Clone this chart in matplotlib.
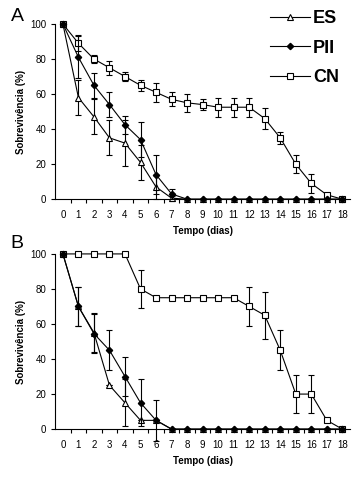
import numpy as np
import matplotlib.pyplot as plt

dias = list(range(19))

# painel A
es_a = [100, 58, 47, 35, 32, 21, 7, 0.6, 0, 0, 0, 0, 0, 0, 0, 0, 0, 0, 0]
es_a_err = [0, 10, 10, 10, 13, 10, 7, 1.5, 0, 0, 0, 0, 0, 0, 0, 0, 0, 0, 0]
pii_a = [100, 81, 65, 54, 42.5, 34, 14, 3, 0, 0, 0, 0, 0, 0, 0, 0, 0, 0, 0]
pii_a_err = [0, 12, 7, 7, 5, 10, 11, 3, 0, 0, 0, 0, 0, 0, 0, 0, 0, 0, 0]
cn_a = [100, 89, 80, 75, 70, 65, 61, 57, 55, 54, 52.5, 52.5, 52.5, 46, 35, 20, 9, 2.5, 0]
cn_a_err = [0, 4.5, 2.5, 4, 2.5, 3, 5.5, 4, 5, 3, 5.5, 5.5, 5.5, 6, 3.5, 5, 5.5, 0, 0]

# painel B
es_b = [100, 70, 55, 25, 15, 5, 5, 0, 0, 0, 0, 0, 0, 0, 0, 0, 0, 0, 0]
es_b_err = [0, 11, 11, 0, 13.5, 0, 0, 0, 0, 0, 0, 0, 0, 0, 0, 0, 0, 0, 0]
pii_b = [100, 70, 54.5, 45, 30, 15, 5, 0, 0, 0, 0, 0, 0, 0, 0, 0, 0, 0, 0]
pii_b_err = [0, 11, 11, 11.5, 11, 13.5, 11.5, 0, 0, 0, 0, 0, 0, 0, 0, 0, 0, 0, 0]
cn_b = [100, 100, 100, 100, 100, 80, 75, 75, 75, 75, 75, 75, 70, 65, 45, 20, 20, 5, 0]
cn_b_err = [0, 0, 0, 0, 0, 11, 0, 0, 0, 0, 0, 0, 11, 13.5, 11.5, 11, 11, 0, 0]

plt.rcParams['font.family'] = ['Liberation Sans', 'DejaVu Sans']

fig = plt.figure(figsize=(3.58, 4.8), dpi=100)
axA = fig.add_axes([0.154, 0.585, 0.824, 0.365])
axB = fig.add_axes([0.154, 0.106, 0.824, 0.365])

estilo = dict(color='black', lw=0.8, capsize=2.2, elinewidth=0.8, capthick=0.8,
              clip_on=False)


def painel(ax, es, es_err, pii, pii_err, cn, cn_err):
    h_cn = ax.errorbar(dias, cn, yerr=cn_err, marker='s', ms=4.5, mfc='white',
                       mec='black', mew=0.8, zorder=3, **estilo)
    h_es = ax.errorbar(dias, es, yerr=es_err, marker='^', ms=5, mfc='white',
                       mec='black', mew=0.8, zorder=4, **estilo)
    h_pii = ax.errorbar(dias, pii, yerr=pii_err, marker='D', ms=3.2, mfc='black',
                        mec='black', zorder=5, **estilo)
    ax.set_xlim(-0.5, 18.5)
    ax.set_ylim(0, 100)
    ax.set_yticks([0, 20, 40, 60, 80, 100])
    ax.set_xticks(dias)
    ax.set_xticks(np.arange(0.5, 18.5, 1), minor=True)
    ax.tick_params(axis='x', which='major', length=0, labelsize=7, pad=8)
    ax.tick_params(axis='x', which='minor', length=3, width=0.8)
    ax.tick_params(axis='y', length=3, width=0.8, labelsize=7)
    for s in ['top', 'right']:
        ax.spines[s].set_visible(False)
    for s in ['left', 'bottom']:
        ax.spines[s].set_linewidth(0.8)
    ax.set_ylabel('Sobrevivência (%)', fontsize=7, fontweight='bold', labelpad=3)
    ax.set_xlabel('Tempo (dias)', fontsize=7, fontweight='bold', labelpad=4)
    return h_es, h_pii, h_cn


h_es, h_pii, h_cn = painel(axA, es_a, es_a_err, pii_a, pii_a_err, cn_a, cn_a_err)
painel(axB, es_b, es_b_err, pii_b, pii_b_err, cn_b, cn_b_err)

fig.text(0.03, 0.965, 'A', fontsize=14, va='center')
fig.text(0.03, 0.493, 'B', fontsize=14, va='center')

fig.legend([h_es[0], h_pii[0], h_cn[0]], ['ES', 'PII', 'CN'],
           loc='upper right', bbox_to_anchor=(0.975, 1.0), frameon=False,
           prop={'weight': 'bold', 'size': 13}, handlelength=2.2,
           handletextpad=0.2, labelspacing=0.7, borderpad=0.05)

fig.savefig('out.png', dpi=100)
